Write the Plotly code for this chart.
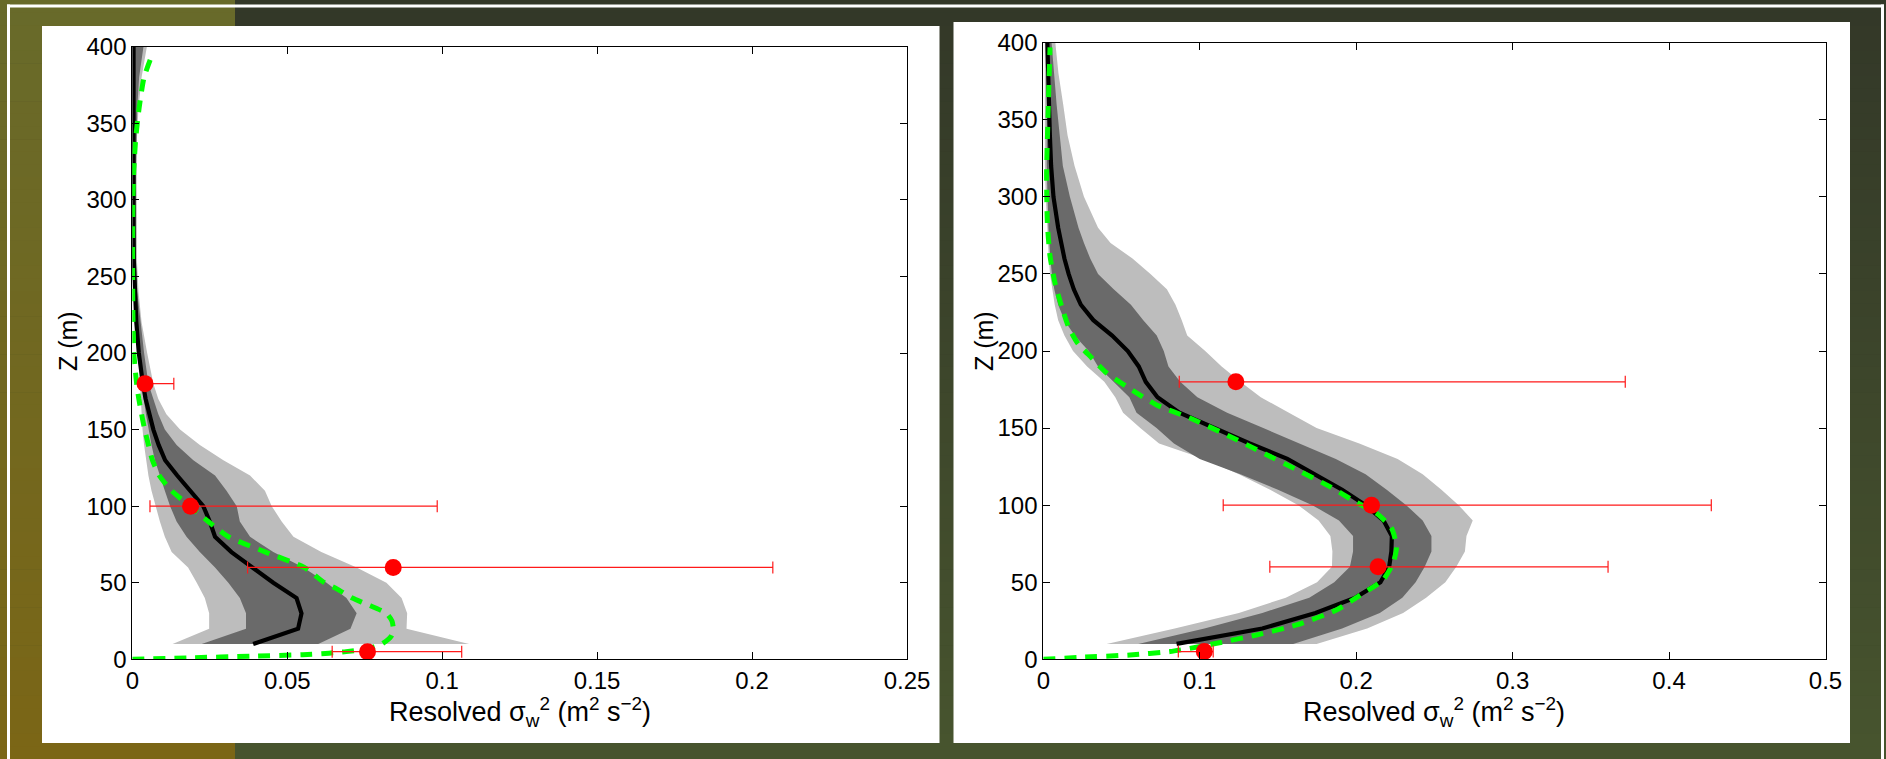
import plotly.graph_objects as go

W, H = 1886, 759

# ---------------- left profile (range 0-0.25) ----------------
z_left = [10, 20, 30, 40, 50, 60, 70, 80, 90, 100, 110, 120, 130, 140, 150, 160, 170, 180, 190, 200,
          220, 240, 260, 280, 300, 320, 340, 360, 380, 400]
left_light_lo = [0.013, 0.0248, 0.0248, 0.0234, 0.0208, 0.018, 0.0127, 0.0105, 0.0089, 0.0076, 0.0062, 0.0052,
                 0.0044, 0.0038, 0.0033, 0.003, 0.0027, 0.0024, 0.0021, 0.0018, 0.0012, 0.0008, 0.0005, 0.0004,
                 0.0003, 0.0003, 0.0003, 0.0003, 0.0003, 0.0003]
left_light_hi = [0.1087, 0.0885, 0.0887, 0.0869, 0.082, 0.0724, 0.061, 0.052, 0.0482, 0.045, 0.0428, 0.038,
                 0.0294, 0.0218, 0.0154, 0.011, 0.0084, 0.0068, 0.0057, 0.0048, 0.003, 0.002, 0.0015, 0.0014,
                 0.0014, 0.0014, 0.0015, 0.002, 0.003, 0.0047]
left_dark_lo = [0.0224, 0.0367, 0.0367, 0.0347, 0.031, 0.0267, 0.0218, 0.0175, 0.0143, 0.0122, 0.0105, 0.0089,
                0.0073, 0.0062, 0.0052, 0.0044, 0.0037, 0.003, 0.0025, 0.002, 0.0012, 0.0007, 0.0004, 0.0003,
                0.0003, 0.0003, 0.0003, 0.0003, 0.0003, 0.0003]
left_dark_hi = [0.060, 0.0704, 0.0724, 0.0691, 0.0627, 0.0552, 0.0455, 0.038, 0.0347, 0.0337, 0.0304, 0.0267,
                0.0197, 0.0143, 0.0105, 0.0084, 0.0068, 0.0052, 0.0045, 0.0038, 0.0026, 0.0016, 0.0012, 0.0011,
                0.0011, 0.0012, 0.0013, 0.0016, 0.0022, 0.0036]
left_mean = [0.039, 0.0535, 0.0546, 0.053, 0.0455, 0.0385, 0.032, 0.0267, 0.025, 0.0229, 0.0185, 0.0145,
             0.0106, 0.0085, 0.0068, 0.0055, 0.0043, 0.0034, 0.0027, 0.0021, 0.0013, 0.0008, 0.0005, 0.0004,
             0.0004, 0.0004, 0.0004, 0.0004, 0.0004, 0.0004]
z_left_model = [0, 1, 2, 3, 4, 5, 7, 10, 15, 20, 25, 30, 36, 40, 46, 50, 60, 70, 80, 90, 100, 110, 120, 130,
                140, 150, 160, 170, 180, 190, 200, 225, 250, 275, 300, 320, 340, 360, 380, 397]
left_model = [0, 0.019, 0.038, 0.055, 0.0635, 0.069, 0.076, 0.0805, 0.0835, 0.0842, 0.0838, 0.082, 0.0756,
              0.071, 0.066, 0.062, 0.0555, 0.043, 0.031, 0.0245, 0.0186, 0.0127, 0.0087, 0.0065, 0.0052,
              0.004, 0.003, 0.0021, 0.0014, 0.0009, 0.0005, 0.0002, 0.0001, 0.0001, 0.0002, 0.0005, 0.0011,
              0.0022, 0.0038, 0.0068]
z_left_obs = [5, 60, 100, 180]
left_obs = [0.0759, 0.0842, 0.0188, 0.0041]
left_obs_lo = [0.0645, 0.0372, 0.0057, 0.0025]
left_obs_hi = [0.1063, 0.2067, 0.0984, 0.0134]
left_xticks = [0, 0.05, 0.1, 0.15, 0.2, 0.25]
left_xticktext = ["0", "0.05", "0.1", "0.15", "0.2", "0.25"]

# ---------------- right profile (range 0-0.5) ----------------
z_right = [10, 20, 30, 40, 50, 60, 70, 80, 90, 100, 110, 120, 130, 140, 150, 160, 170, 180, 190, 200,
           210, 220, 230, 240, 250, 260, 270, 280, 300, 320, 340, 360, 380, 400]
right_light_lo = [0.0405, 0.084, 0.125, 0.155, 0.175, 0.1845, 0.1848, 0.1835, 0.176, 0.163, 0.145, 0.125,
                  0.103, 0.074, 0.062, 0.051, 0.046, 0.039, 0.028, 0.019, 0.0135, 0.0095, 0.0073, 0.0058,
                  0.0043, 0.0035, 0.003, 0.0025, 0.0016, 0.001, 0.001, 0.001, 0.001, 0.001]
right_light_hi = [0.1747, 0.207, 0.230, 0.2447, 0.257, 0.264, 0.2695, 0.2705, 0.2745, 0.2655, 0.2545, 0.2425,
                  0.2265, 0.202, 0.1747, 0.157, 0.139, 0.126, 0.114, 0.1035, 0.092, 0.0885, 0.0845, 0.079,
                  0.0685, 0.057, 0.043, 0.035, 0.026, 0.020, 0.0155, 0.0127, 0.0097, 0.0077]
right_dark_lo = [0.0607, 0.103, 0.140, 0.170, 0.186, 0.196, 0.198, 0.198, 0.189, 0.172, 0.150, 0.126,
                 0.100, 0.0835, 0.0724, 0.0596, 0.055, 0.045, 0.035, 0.029, 0.020, 0.0135, 0.0095, 0.007,
                 0.0055, 0.0045, 0.0038, 0.0033, 0.0027, 0.0022, 0.0022, 0.0022, 0.0022, 0.0022]
right_dark_hi = [0.1597, 0.191, 0.2151, 0.2295, 0.238, 0.2438, 0.2481, 0.2481, 0.2425, 0.232, 0.2195, 0.206,
                 0.187, 0.164, 0.1406, 0.1175, 0.0985, 0.0875, 0.080, 0.077, 0.0725, 0.0639, 0.056, 0.045,
                 0.035, 0.030, 0.026, 0.0225, 0.017, 0.0125, 0.0105, 0.0085, 0.0068, 0.0053]
right_mean = [0.0852, 0.140, 0.174, 0.1995, 0.2155, 0.2211, 0.2225, 0.2228, 0.2175, 0.206, 0.191, 0.174,
              0.156, 0.132, 0.109, 0.087, 0.073, 0.0655, 0.061, 0.054, 0.044, 0.032, 0.024, 0.0195,
              0.0162, 0.0135, 0.0115, 0.0095, 0.0065, 0.005, 0.0042, 0.0036, 0.0031, 0.0026]
z_right_model = [0, 1.3, 2.8, 5, 7.1, 10.4, 15.8, 22.3, 32, 42.9, 51.5, 62.3, 73, 85, 94.8, 102.4, 112, 123,
                 133.8, 144.6, 156.5, 165, 177, 185.7, 195.5, 205, 216, 229, 244, 261.5, 283, 315, 359, 397]
right_model = [0, 0.0234, 0.0554, 0.081, 0.0937, 0.1108, 0.1363, 0.1619, 0.1874, 0.2045, 0.2172, 0.2236,
               0.2258, 0.2226, 0.213, 0.1991, 0.1832, 0.1619, 0.1406, 0.1193, 0.0937, 0.0724, 0.0532, 0.0405,
               0.031, 0.022, 0.016, 0.0117, 0.0075, 0.0043, 0.0026, 0.0021, 0.0032, 0.0043]
z_right_obs = [5, 60, 100, 180]
right_obs = [0.1029, 0.214, 0.2098, 0.1231]
right_obs_lo = [0.0863, 0.1448, 0.115, 0.0869]
right_obs_hi = [0.1086, 0.361, 0.427, 0.372]
right_xticks = [0, 0.1, 0.2, 0.3, 0.4, 0.5]
right_xticktext = ["0", "0.1", "0.2", "0.3", "0.4", "0.5"]

z_ticks = [0, 50, 100, 150, 200, 250, 300, 350, 400]

LIGHT = "#bdbdbd"
DARK = "#6a6a6a"
FONT = "Liberation Sans, Arial, Helvetica, sans-serif"


def fx(x):
    return x / W


def fy(y):
    return 1 - y / H


fig = go.Figure()


def add_profile(xa, ya, z, llo, lhi, dlo, dhi, mean, gz, gv, oz, ov, olo, ohi):
    fig.add_trace(go.Scatter(x=llo + lhi[::-1], y=z + z[::-1], fill="toself", fillcolor=LIGHT,
                             mode="lines", line=dict(width=0), xaxis=xa, yaxis=ya, hoverinfo="skip"))
    fig.add_trace(go.Scatter(x=dlo + dhi[::-1], y=z + z[::-1], fill="toself", fillcolor=DARK,
                             mode="lines", line=dict(width=0), xaxis=xa, yaxis=ya, hoverinfo="skip"))
    fig.add_trace(go.Scatter(x=mean, y=z, mode="lines", line=dict(color="black", width=4.2),
                             xaxis=xa, yaxis=ya))
    fig.add_trace(go.Scatter(x=gv, y=gz, mode="lines",
                             line=dict(color="#00ff00", width=5, dash="12px,9px", shape="spline",
                                       smoothing=0.6),
                             xaxis=xa, yaxis=ya))
    fig.add_trace(go.Scatter(
        x=ov, y=oz, mode="markers", marker=dict(color="#ff0000", size=17),
        error_x=dict(type="data", symmetric=False,
                     array=[h - v for h, v in zip(ohi, ov)],
                     arrayminus=[v - l for v, l in zip(ov, olo)],
                     color="#ff1a1a", thickness=1.2, width=6),
        xaxis=xa, yaxis=ya, cliponaxis=True))


add_profile("x", "y", z_left, left_light_lo, left_light_hi, left_dark_lo, left_dark_hi, left_mean,
            z_left_model, left_model, z_left_obs, left_obs, left_obs_lo, left_obs_hi)
add_profile("x2", "y2", z_right, right_light_lo, right_light_hi, right_dark_lo, right_dark_hi, right_mean,
            z_right_model, right_model, z_right_obs, right_obs, right_obs_lo, right_obs_hi)

axis_common = dict(showgrid=False, zeroline=False, showline=True, linecolor="black", linewidth=1,
                   mirror="ticks", ticks="inside", ticklen=7, tickwidth=1, tickcolor="black",
                   automargin=False,
                   tickfont=dict(family=FONT, size=24, color="black"))

fig.update_layout(
    template="none",
    width=W, height=H, margin=dict(l=0, r=0, t=0, b=0, pad=0, autoexpand=False),
    paper_bgcolor="rgb(51,56,40)", plot_bgcolor="rgba(0,0,0,0)",
    showlegend=False,
    xaxis=dict(domain=[fx(132.3), fx(907)], range=[0, 0.25], tickvals=left_xticks,
               ticktext=left_xticktext, anchor="y", **axis_common),
    yaxis=dict(domain=[fy(659.3), fy(46.7)], range=[0, 400], tickvals=z_ticks, anchor="x", **axis_common),
    xaxis2=dict(domain=[fx(1043.3), fx(1825.5)], range=[0, 0.5], tickvals=right_xticks,
                ticktext=right_xticktext, anchor="y2", **axis_common),
    yaxis2=dict(domain=[fy(659.3), fy(42.7)], range=[0, 400], tickvals=z_ticks, anchor="x2", **axis_common),
)

# backdrop: vertical colour gradients, thin white frame and two white panels
shapes = []
N = 60
for i in range(N):
    t = i / (N - 1)
    y0, y1 = i * H / N, (i + 1) * H / N + 0.6
    c_left = tuple(round(a + (b - a) * t) for a, b in zip((104, 106, 42), (123, 102, 22)))
    c_right = tuple(round(a + (b - a) * t) for a, b in zip((51, 56, 40), (71, 84, 46)))
    shapes.append(dict(type="rect", xref="paper", yref="paper", layer="below",
                       x0=0, x1=fx(235), y0=fy(y1), y1=fy(y0), line=dict(width=0),
                       fillcolor="rgb(%d,%d,%d)" % c_left))
    shapes.append(dict(type="rect", xref="paper", yref="paper", layer="below",
                       x0=fx(235), x1=1, y0=fy(y1), y1=fy(y0), line=dict(width=0),
                       fillcolor="rgb(%d,%d,%d)" % c_right))
for (x0, y0, x1, y1) in [(7, 4.5, 1884, 7.5), (7, 4.5, 10, 759), (1881, 4.5, 1884, 759)]:
    shapes.append(dict(type="rect", xref="paper", yref="paper", layer="below",
                       x0=fx(x0), x1=fx(x1), y0=fy(y1), y1=fy(y0), line=dict(width=0),
                       fillcolor="white"))
for (x0, y0, x1, y1) in [(42, 26, 939.5, 743), (953.5, 22, 1850, 743)]:
    shapes.append(dict(type="rect", xref="paper", yref="paper", layer="below",
                       x0=fx(x0), x1=fx(x1), y0=fy(y1), y1=fy(y0), line=dict(width=0),
                       fillcolor="white"))
fig.update_layout(shapes=shapes)

xlabel = "Resolved σ<sub>w</sub><sup>2</sup> (m<sup>2</sup> s<sup>−2</sup>)"
annotations = [
    dict(text=xlabel, x=fx(519.6), y=fy(691), xanchor="center", yanchor="top", size=27),
    dict(text=xlabel, x=fx(1434.4), y=fy(691), xanchor="center", yanchor="top", size=27),
    dict(text="Z (m)", x=fx(68), y=fy(341), xanchor="center", yanchor="middle", textangle=-90, size=25),
    dict(text="Z (m)", x=fx(984), y=fy(341), xanchor="center", yanchor="middle", textangle=-90, size=25),
]
for a in annotations:
    size = a.pop("size")
    a.update(xref="paper", yref="paper", showarrow=False, font=dict(family=FONT, size=size, color="black"))
fig.update_layout(annotations=annotations)

fig.write_html("out.html")
